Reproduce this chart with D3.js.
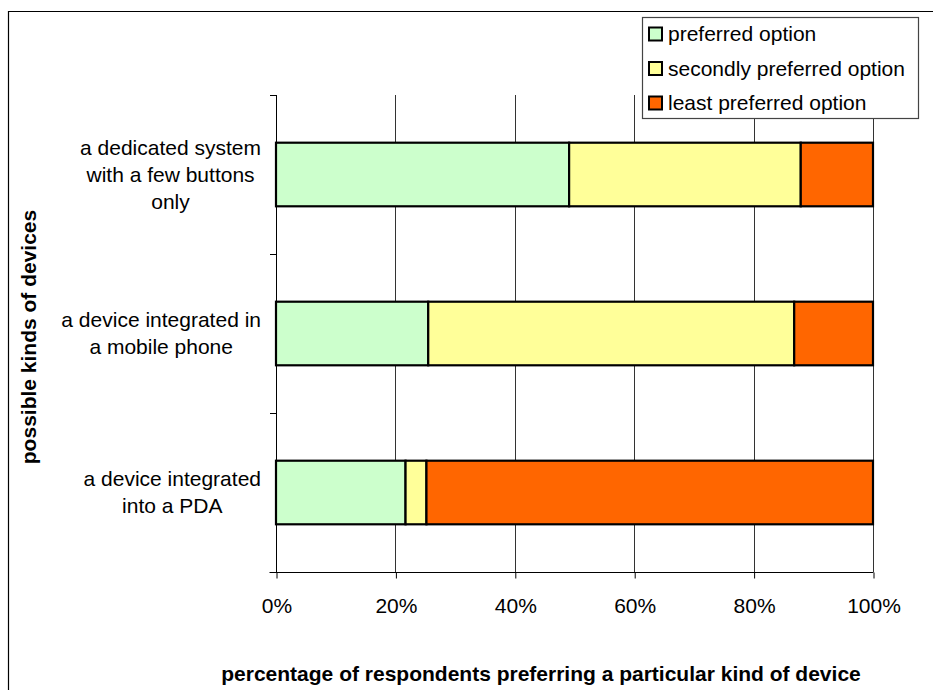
<!DOCTYPE html>
<html>
<head>
<meta charset="utf-8">
<script src="https://cdn.jsdelivr.net/npm/d3@7"></script>
<style>
  html, body { margin: 0; padding: 0; background: #fff; }
  svg { display: block; font-family: "Liberation Sans", Arial, sans-serif; }
</style>
</head>
<body>
<svg id="chart" width="933" height="690"></svg>
<script>
// ---- data ----
const categories = [
  "a dedicated system with a few buttons only",
  "a device integrated in a mobile phone",
  "a device integrated into a PDA"
];
const categoryLines = [
  ["a dedicated system", "with a few buttons", "only"],
  ["a device integrated in", "a mobile phone"],
  ["a device integrated", "into a PDA"]
];
const seriesNames = ["preferred option", "secondly preferred option", "least preferred option"];
const preferred = [49.1, 25.5, 21.7];
const secondly  = [38.8, 61.3, 3.5];
const least     = [12.1, 13.2, 74.8];
const seriesColors = ["#CCFFCC", "#FFFF99", "#FF6600"];
const xTicks = [0, 20, 40, 60, 80, 100];
const xTitle = "percentage of respondents preferring a particular kind of device";
const yTitle = "possible kinds of devices";

// ---- layout ----
const FS = 21;
const svg = d3.select("#chart");
const plot = { left: 276, right: 873, top: 95, bottom: 572 };

const x = d3.scaleLinear().domain([0, 100]).range([plot.left, plot.right]);
const y = d3.scaleBand().domain(categories).range([plot.top, plot.bottom]).paddingInner(0.6).paddingOuter(0.3);
const yTickScale = d3.scaleLinear().domain([0, categories.length]).range([plot.top, plot.bottom]);

// outer border (chart area)
svg.append("path")
  .attr("d", "M8.5,690 L8.5,11.5 L933,11.5")
  .attr("fill", "none").attr("stroke", "#000").attr("stroke-width", 1.2);

// gridlines
svg.append("g").selectAll("line")
  .data(xTicks.filter(d => d > 0))
  .join("line")
  .attr("x1", d => Math.round(x(d)) + 0.5).attr("x2", d => Math.round(x(d)) + 0.5)
  .attr("y1", plot.top).attr("y2", plot.bottom)
  .attr("stroke", "#333").attr("stroke-width", 1);

// stacked bars
const table = categories.map((c, i) => ({ cat: c, p: preferred[i], s: secondly[i], l: least[i] }));
const stack = d3.stack().keys(["p", "s", "l"]);
const stacked = stack(table);

const gBars = svg.append("g");
stacked.forEach((layer, si) => {
  gBars.selectAll(null)
    .data(layer)
    .join("rect")
    .attr("x", d => x(d[0]))
    .attr("y", d => y(d.data.cat))
    .attr("width", d => x(d[1]) - x(d[0]))
    .attr("height", y.bandwidth())
    .attr("fill", seriesColors[si])
    .attr("stroke", "#000")
    .attr("stroke-width", 2.2);
});

// y axis
const yAxisG = svg.append("g");
yAxisG.append("line")
  .attr("x1", plot.left + 0.5).attr("x2", plot.left + 0.5)
  .attr("y1", plot.top).attr("y2", plot.bottom)
  .attr("stroke", "#000");
yAxisG.selectAll("line.tick")
  .data(d3.range(categories.length + 1))
  .join("line").attr("class", "tick")
  .attr("x1", plot.left - 6).attr("x2", plot.left)
  .attr("y1", d => Math.round(yTickScale(d)) + 0.5).attr("y2", d => Math.round(yTickScale(d)) + 0.5)
  .attr("stroke", "#000");

// x axis
const xAxis = d3.axisBottom(x).tickValues(xTicks).tickFormat(d => d + "%").tickSize(6).tickSizeOuter(0);
const xAxisG = svg.append("g").attr("transform", `translate(0.5,${plot.bottom + 0.5})`).call(xAxis);
xAxisG.select(".domain").attr("d", `M${plot.left - 7},0H${plot.right}`).attr("stroke", "#000");
xAxisG.selectAll(".tick line").attr("stroke", "#000");
xAxisG.selectAll(".tick text")
  .attr("y", 33).attr("dy", "0.35em")
  .attr("font-size", FS).attr("fill", "#000")
  .attr("font-family", '"Liberation Sans", Arial, sans-serif');

// category labels (block right-aligned, lines centered)
const labelRight = 261;
const lineH = 27;
categories.forEach((c, i) => {
  const lines = categoryLines[i];
  const g = svg.append("g");
  const texts = g.selectAll("text").data(lines).join("text")
    .attr("font-size", FS).attr("fill", "#000")
    .attr("text-anchor", "middle")
    .attr("dy", "0.35em")
    .text(d => d);
  let maxW = 0;
  texts.each(function () { maxW = Math.max(maxW, this.getComputedTextLength()); });
  const cx = labelRight - maxW / 2;
  const cy = y(c) + y.bandwidth() / 2;
  texts.attr("x", cx)
    .attr("y", (d, j) => cy + (j - (lines.length - 1) / 2) * lineH);
});

// axis titles
svg.append("text")
  .attr("x", 541).attr("y", 674).attr("dy", "0.35em")
  .attr("text-anchor", "middle").attr("font-size", FS).attr("font-weight", "bold")
  .text(xTitle);
svg.append("text")
  .attr("transform", "translate(29,337) rotate(-90)")
  .attr("dy", "0.35em")
  .attr("text-anchor", "middle").attr("font-size", FS).attr("font-weight", "bold")
  .text(yTitle);

// legend
const leg = svg.append("g").attr("transform", "translate(642,17)");
leg.append("rect").attr("x", 0.5).attr("y", 0.5).attr("width", 276).attr("height", 101)
  .attr("fill", "#fff").attr("stroke", "#444").attr("stroke-width", 1.2);
const items = leg.selectAll("g.item").data(seriesNames).join("g").attr("class", "item")
  .attr("transform", (d, i) => `translate(0,${17 + i * 34.5})`);
items.append("rect").attr("x", 7).attr("y", -6.5).attr("width", 13).attr("height", 13)
  .attr("fill", (d, i) => seriesColors[i]).attr("stroke", "#000").attr("stroke-width", 2);
items.append("text").attr("x", 26).attr("y", 0).attr("dy", "0.35em")
  .attr("font-size", FS).attr("fill", "#000").text(d => d);
</script>
</body>
</html>
